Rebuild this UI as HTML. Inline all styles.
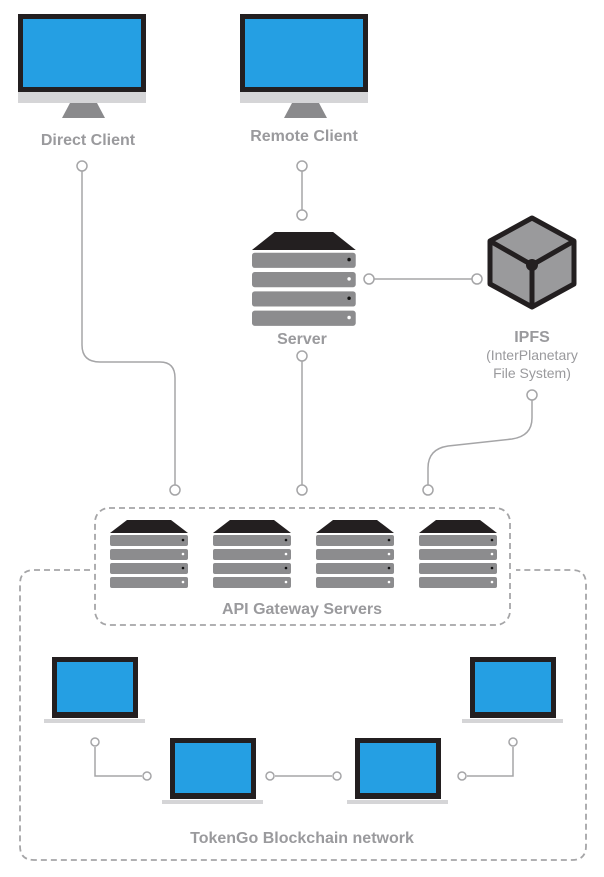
<!DOCTYPE html>
<html><head><meta charset="utf-8"><style>
html,body{margin:0;padding:0;background:#fff;}
svg{display:block;}
text{font-family:"Liberation Sans","DejaVu Sans",sans-serif;fill:#9a9a9d;}
</style></head><body>
<svg width="604" height="877" viewBox="0 0 604 877" xmlns="http://www.w3.org/2000/svg">
<defs>
  <g id="mon">
    <rect x="0" y="0" width="128" height="78" fill="#231f20"/>
    <rect x="5" y="5" width="118" height="68" fill="#259fe3"/>
    <rect x="0" y="78" width="128" height="11" fill="#d5d5d7"/>
    <polygon points="52,89 79,89 87,104 44,104" fill="#8a8a8c"/>
  </g>
  <g id="srv">
    <polygon points="17,0 61,0 78,13 0,13" fill="#231f20"/>
    <rect x="0" y="15" width="78" height="11" rx="2" fill="#8c8c8e"/>
    <rect x="0" y="29" width="78" height="11" rx="2" fill="#8c8c8e"/>
    <rect x="0" y="43" width="78" height="11" rx="2" fill="#8c8c8e"/>
    <rect x="0" y="57" width="78" height="11" rx="2" fill="#8c8c8e"/>
    <circle cx="73" cy="20" r="1.3" fill="#111"/>
    <circle cx="73" cy="34" r="1.3" fill="#fff"/>
    <circle cx="73" cy="48" r="1.3" fill="#111"/>
    <circle cx="73" cy="62" r="1.3" fill="#fff"/>
  </g>
  <g id="lap">
    <rect x="8" y="0" width="86" height="61" fill="#231f20"/>
    <rect x="13" y="5" width="76" height="50" fill="#259fe3"/>
    <rect x="0" y="62" width="101" height="4" fill="#d5d5d7"/>
  </g>
</defs>

<!-- monitors -->
<use href="#mon" x="18" y="14"/>
<use href="#mon" x="240" y="14"/>
<text x="88" y="145" text-anchor="middle" font-size="16" font-weight="bold">Direct Client</text>
<text x="304" y="141" text-anchor="middle" font-size="16" font-weight="bold">Remote Client</text>

<!-- connectors -->
<g fill="none" stroke="#a5a5a7" stroke-width="1.5">
  <path d="M82 171 V345 Q82 362 100 362 H160 Q175 362 175 378 V485"/>
  <path d="M302 171 V210"/>
  <path d="M374 279 H472"/>
  <path d="M302 361 V485"/>
  <path d="M532 400 V418 Q532 436 512 439 L448 446 Q428 449 428 468 V485"/>
  <path d="M95 747 V776 H142"/>
  <path d="M275 776 H332"/>
  <path d="M467 776 H513 V747"/>
</g>
<g fill="#fff" stroke="#a5a5a7" stroke-width="1.5">
  <circle cx="82" cy="166" r="5"/>
  <circle cx="302" cy="166" r="5"/>
  <circle cx="302" cy="215" r="5"/>
  <circle cx="369" cy="279" r="5"/>
  <circle cx="477" cy="279" r="5"/>
  <circle cx="302" cy="356" r="5"/>
  <circle cx="532" cy="395" r="5"/>
  <circle cx="175" cy="490" r="5"/>
  <circle cx="302" cy="490" r="5"/>
  <circle cx="428" cy="490" r="5"/>
  <circle cx="95" cy="742" r="4"/>
  <circle cx="147" cy="776" r="4"/>
  <circle cx="270" cy="776" r="4"/>
  <circle cx="337" cy="776" r="4"/>
  <circle cx="462" cy="776" r="4"/>
  <circle cx="513" cy="742" r="4"/>
</g>

<!-- server -->
<g transform="translate(252,232) scale(1.33,1.38)"><use href="#srv"/></g>
<text x="302" y="344" text-anchor="middle" font-size="16" font-weight="bold">Server</text>

<!-- IPFS cube -->
<polygon points="532,218 574,241 574,284 532,307 490,284 490,241" fill="#9a9a9c" stroke="#231f20" stroke-width="5" stroke-linejoin="round"/>
<polyline points="490,241 532,265 574,241" fill="none" stroke="#231f20" stroke-width="5"/>
<line x1="532" y1="265" x2="532" y2="307" stroke="#231f20" stroke-width="5"/>
<circle cx="532" cy="265" r="6" fill="#231f20"/>
<text x="532" y="342" text-anchor="middle" font-size="16" font-weight="bold">IPFS</text>
<text x="532" y="360" text-anchor="middle" font-size="14">(InterPlanetary</text>
<text x="532" y="378" text-anchor="middle" font-size="14">File System)</text>

<!-- dashed boxes -->
<g fill="none" stroke="#a5a5a7" stroke-width="1.8" stroke-dasharray="6,4">
  <rect x="95" y="508" width="415" height="117" rx="14"/>
  <path d="M90 570 H34 Q20 570 20 584 V846 Q20 860 34 860 H572 Q586 860 586 846 V584 Q586 570 572 570 H516"/>
</g>

<!-- gateway servers -->
<use href="#srv" x="110" y="520"/>
<use href="#srv" x="213" y="520"/>
<use href="#srv" x="316" y="520"/>
<use href="#srv" x="419" y="520"/>
<text x="302" y="614" text-anchor="middle" font-size="16" font-weight="bold">API Gateway Servers</text>

<!-- laptops -->
<use href="#lap" x="44" y="657"/>
<use href="#lap" x="462" y="657"/>
<use href="#lap" x="162" y="738"/>
<use href="#lap" x="347" y="738"/>
<text x="302" y="843" text-anchor="middle" font-size="16" font-weight="bold">TokenGo Blockchain network</text>
</svg>
</body></html>
